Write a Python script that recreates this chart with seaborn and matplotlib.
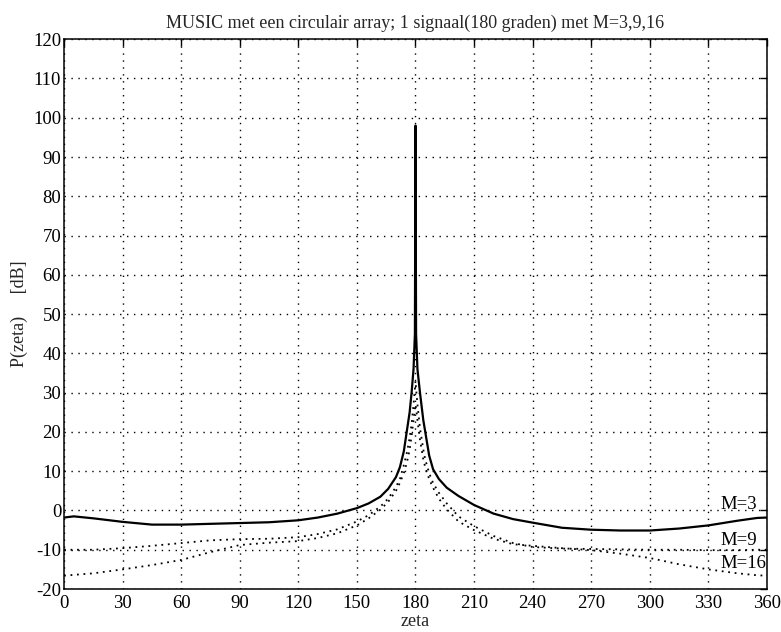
import numpy as np
import pandas as pd
import seaborn as sns
import matplotlib.pyplot as plt

# zeta (degrees) and MUSIC spectrum values (dB)
zeta = [0, 5, 15, 30, 45, 60, 75, 90, 105, 120, 130, 140, 150, 156, 162, 166,
        170, 172, 174, 175.5, 177, 178, 179, 179.7, 180, 180.3, 181, 182.3,
        184, 185, 187, 189, 192, 196, 202, 210, 220, 230, 240, 255, 270, 285,
        300, 315, 330, 345, 355, 360]

p_m3 = [-1.8, -1.5, -2.0, -2.9, -3.6, -3.6, -3.4, -3.2, -3.0, -2.5, -1.8, -0.8,
        0.6, 1.8, 3.5, 5.5, 8.5, 11.0, 15.0, 20.0, 25.0, 30.0, 36.0, 45.0, 98.0,
        45.0, 36.0, 30.0, 23.0, 20.0, 14.0, 10.5, 8.0, 5.8, 3.7, 1.4, -0.8, -2.2,
        -3.1, -4.4, -4.9, -5.1, -5.1, -4.6, -3.8, -2.6, -1.9, -1.8]

p_m9 = [-10.0, -10.0, -10.0, -9.6, -9.0, -8.3, -7.6, -7.3, -7.2, -6.8, -6.0, -4.8,
        -2.8, -1.2, 1.0, 3.0, 6.0, 8.0, 11.5, 14.5, 18.5, 22.0, 27.0, 31.0, 33.0,
        31.0, 27.0, 21.0, 15.5, 13.0, 9.5, 7.0, 4.5, 1.8, -1.5, -4.0, -6.5, -8.3,
        -9.3, -9.7, -9.8, -9.9, -10.0, -10.0, -10.1, -10.1, -10.0, -10.0]

p_m16 = [-16.6, -16.4, -16.0, -15.0, -13.9, -12.6, -10.6, -8.8, -8.2, -7.8, -7.0,
         -5.8, -3.8, -2.0, 0.2, 2.2, 5.0, 7.0, 9.5, 12.0, 15.5, 19.0, 23.0, 26.0,
         27.0, 26.0, 23.0, 18.0, 13.0, 11.0, 8.0, 5.8, 3.0, 0.3, -2.8, -5.0, -7.2,
         -8.6, -9.0, -9.6, -10.1, -11.0, -12.1, -13.7, -15.0, -16.0, -16.5, -16.6]

labels = ["M=3", "M=9", "M=16"]
label_y = [1.5, -7.7, -13.6]

df = pd.DataFrame({"zeta": zeta, "M3": p_m3, "M9": p_m9, "M16": p_m16})

sns.set_theme(style="white")
plt.rcParams['font.family'] = ['Liberation Serif', 'DejaVu Serif']
plt.rcParams['axes.unicode_minus'] = False

fig, ax = plt.subplots(figsize=(7.81, 6.32), dpi=100)
fig.subplots_adjust(left=0.082, right=0.982, top=0.938, bottom=0.068)

sns.lineplot(data=df, x="zeta", y="M3", ax=ax, color="black", linewidth=1.6,
             estimator=None, sort=False)
sns.lineplot(data=df, x="zeta", y="M9", ax=ax, color="black", linewidth=1.3,
             estimator=None, sort=False)
sns.lineplot(data=df, x="zeta", y="M16", ax=ax, color="black", linewidth=1.3,
             estimator=None, sort=False)
for line in ax.lines[1:3]:
    line.set_dashes((1, 2.6))

ax.set_xlim(0, 360)
ax.set_ylim(-20, 120)
ax.set_xticks(np.arange(0, 361, 30))
ax.set_yticks(np.arange(-20, 121, 10))

ax.grid(True, color="black", linewidth=1.0, linestyle=(0, (1, 4.0)))
ax.set_axisbelow(True)

for s in ax.spines.values():
    s.set_color("black")
    s.set_linewidth(1.1)

ax.tick_params(axis="both", direction="in", length=5, width=1, colors="black",
               labelsize=13.5, top=True, right=True)
ax.tick_params(axis="x", pad=4)
ax.tick_params(axis="y", pad=2)

for lab, yv in zip(labels, label_y):
    ax.text(336, yv, lab, fontsize=13.5, ha="left", va="center", color="black")

ax.set_title("MUSIC met een circulair array; 1 signaal(180 graden) met M=3,9,16",
             fontsize=13, pad=8)
ax.set_xlabel("zeta", fontsize=13, labelpad=1)
ax.set_ylabel("P(zeta)     [dB]", fontsize=13, labelpad=4)

fig.savefig("out.png", dpi=100)
